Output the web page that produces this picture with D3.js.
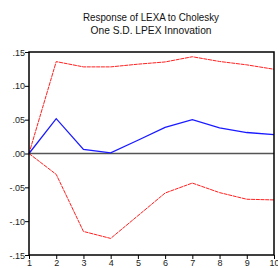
<!DOCTYPE html>
<html><head><meta charset="utf-8">
<script src="https://cdn.jsdelivr.net/npm/d3@7"></script>
<style>body{margin:0;background:#fff}svg{display:block}</style>
</head><body>
<svg id="c" width="278" height="268"></svg>
<script>
const periods = [1,2,3,4,5,6,7,8,9,10];
const response = [0, 0.0515, 0.006, 0.001, 0.0196, 0.0387, 0.050, 0.0377, 0.031, 0.028];
const upperBand = [0, 0.1358, 0.128, 0.128, 0.132, 0.1353, 0.143, 0.136, 0.131, 0.1245];
const lowerBand = [0, -0.0309, -0.1152, -0.1255, -0.092, -0.0584, -0.0437, -0.0578, -0.0676, -0.0686];
const yTicks = [-0.15, -0.10, -0.05, 0.00, 0.05, 0.10, 0.15];
const yTickLabels = ["-.15", "-.10", "-.05", ".00", ".05", ".10", ".15"];
const titleLines = ["Response of LEXA to Cholesky", "One S.D. LPEX Innovation"];

const svg = d3.select("#c");
const L = 29, R = 274, T = 52, B = 255;
const x = d3.scaleLinear().domain([1,10]).range([L,R]);
const y = d3.scaleLinear().domain([-0.15,0.15]).range([B,T]);
const font = "'Liberation Sans', Arial, sans-serif";

// title
svg.selectAll("text.title").data(titleLines).join("text")
  .attr("class","title")
  .attr("x",151).attr("y",(d,i)=>21+i*13)
  .attr("text-anchor","middle")
  .attr("font-family",font).attr("font-size",11)
  .attr("textLength",(d,i)=>i===0?136:121).attr("lengthAdjust","spacingAndGlyphs")
  .attr("fill","#111").text(d=>d);

// zero line
svg.append("line").attr("x1",L).attr("x2",R).attr("y1",y(0)).attr("y2",y(0))
  .attr("stroke","#555").attr("stroke-width",1.5);

const line = d3.line().x((d,i)=>x(periods[i])).y(d=>y(d));
svg.append("path").datum(upperBand).attr("d",line).attr("fill","none")
  .attr("stroke","#ff2020").attr("stroke-width",1).attr("stroke-dasharray","4,0.7");
svg.append("path").datum(lowerBand).attr("d",line).attr("fill","none")
  .attr("stroke","#ff2020").attr("stroke-width",1).attr("stroke-dasharray","4,0.7");
svg.append("path").datum(response).attr("d",line).attr("fill","none")
  .attr("stroke","#1a1aff").attr("stroke-width",1.3);

// axes
const yAxis = d3.axisLeft(y).tickValues(yTicks).tickFormat((d,i)=>yTickLabels[i]).tickSize(4).tickSizeOuter(0);
const gy = svg.append("g").attr("transform",`translate(${L},0)`).call(yAxis);
const xAxis = d3.axisBottom(x).tickValues(periods).tickFormat(d3.format("d")).tickSize(4).tickSizeOuter(0);
const gx = svg.append("g").attr("transform",`translate(0,${B})`).call(xAxis);
[gx,gy].forEach(g=>{
  g.select(".domain").remove();
  g.selectAll("line").attr("stroke","#000");
  g.selectAll("text").attr("font-family",font).attr("font-size",9).attr("fill","#222");
});
gy.selectAll("text").attr("x",-4).attr("dy","0.35em");
gx.selectAll("text").attr("y",5).attr("dy","0.71em");

// frame
svg.append("rect").attr("x",L).attr("y",T).attr("width",R-L).attr("height",B-T)
  .attr("fill","none").attr("stroke","#000").attr("stroke-width",1.5);
</script>
</body></html>
